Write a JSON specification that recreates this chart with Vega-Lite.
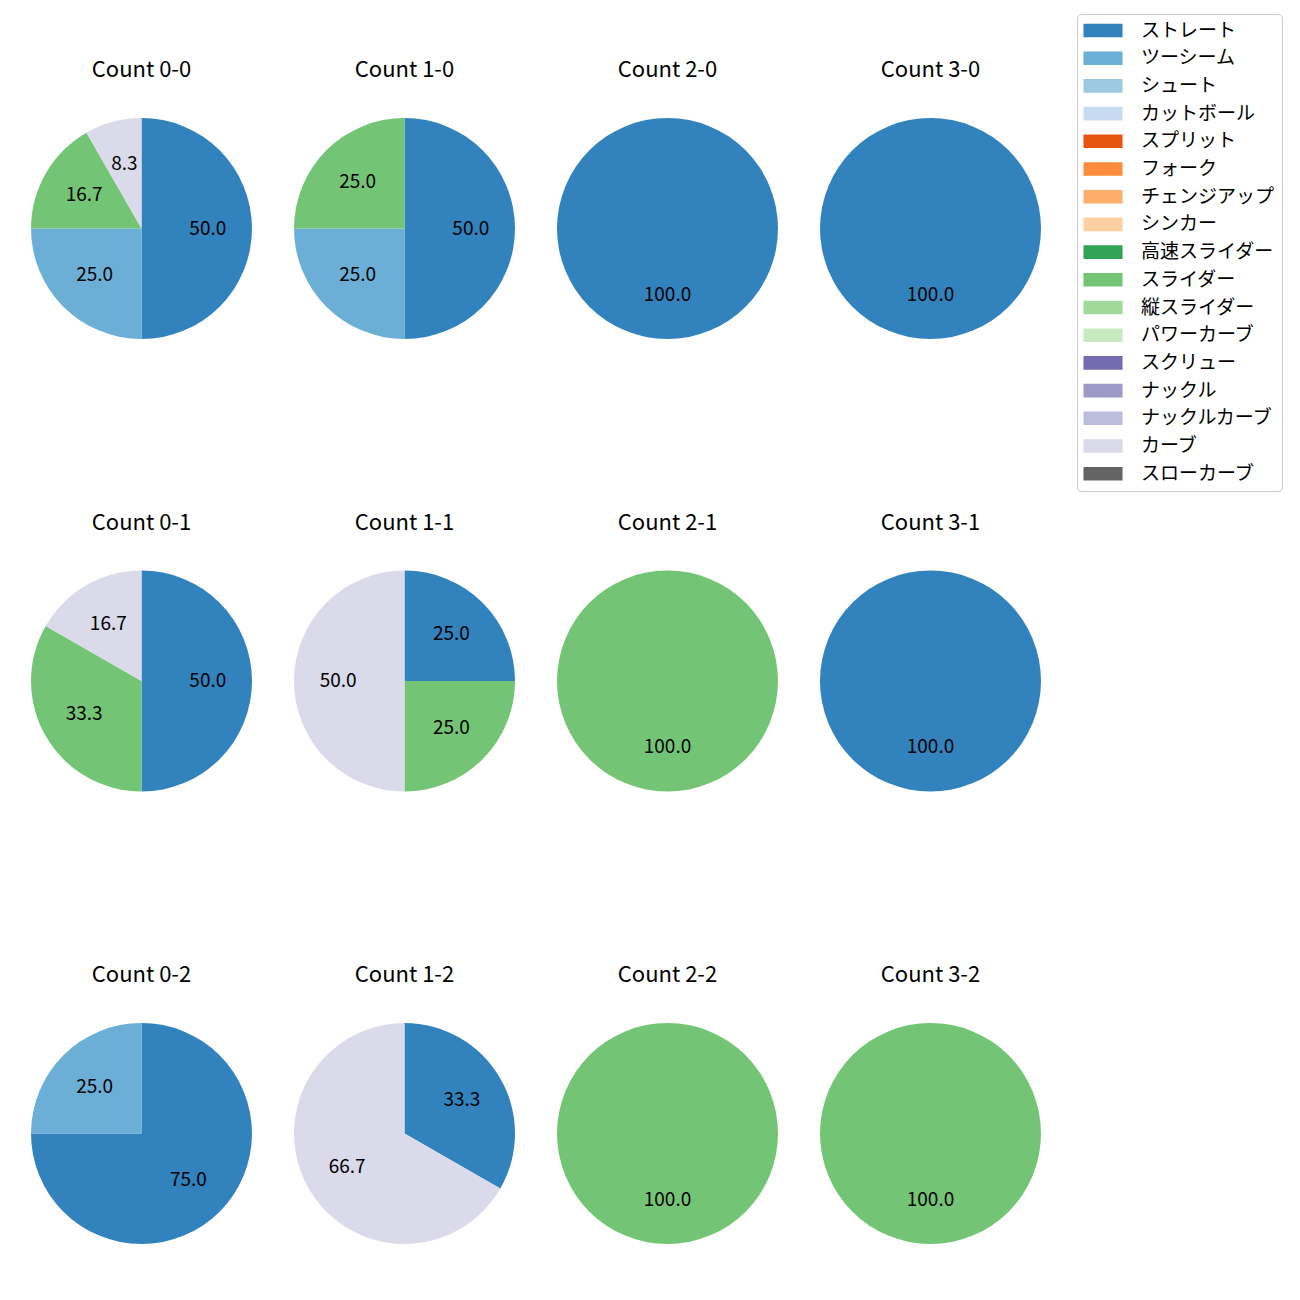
{
  "$schema": "https://vega.github.io/schema/vega-lite/v6.json",
  "padding": {"left": 31, "top": 13, "right": 0, "bottom": 0},
  "data": {
    "values": [
      {"count": "Count 0-0", "pitch": "ストレート", "idx": 0, "pct": 50.0},
      {"count": "Count 0-0", "pitch": "ツーシーム", "idx": 1, "pct": 25.0},
      {"count": "Count 0-0", "pitch": "スライダー", "idx": 9, "pct": 16.7},
      {"count": "Count 0-0", "pitch": "カーブ", "idx": 15, "pct": 8.3},
      {"count": "Count 1-0", "pitch": "ストレート", "idx": 0, "pct": 50.0},
      {"count": "Count 1-0", "pitch": "ツーシーム", "idx": 1, "pct": 25.0},
      {"count": "Count 1-0", "pitch": "スライダー", "idx": 9, "pct": 25.0},
      {"count": "Count 2-0", "pitch": "ストレート", "idx": 0, "pct": 100.0},
      {"count": "Count 3-0", "pitch": "ストレート", "idx": 0, "pct": 100.0},
      {"count": "Count 0-1", "pitch": "ストレート", "idx": 0, "pct": 50.0},
      {"count": "Count 0-1", "pitch": "スライダー", "idx": 9, "pct": 33.3},
      {"count": "Count 0-1", "pitch": "カーブ", "idx": 15, "pct": 16.7},
      {"count": "Count 1-1", "pitch": "ストレート", "idx": 0, "pct": 25.0},
      {"count": "Count 1-1", "pitch": "スライダー", "idx": 9, "pct": 25.0},
      {"count": "Count 1-1", "pitch": "カーブ", "idx": 15, "pct": 50.0},
      {"count": "Count 2-1", "pitch": "スライダー", "idx": 9, "pct": 100.0},
      {"count": "Count 3-1", "pitch": "ストレート", "idx": 0, "pct": 100.0},
      {"count": "Count 0-2", "pitch": "ストレート", "idx": 0, "pct": 75.0},
      {"count": "Count 0-2", "pitch": "ツーシーム", "idx": 1, "pct": 25.0},
      {"count": "Count 1-2", "pitch": "ストレート", "idx": 0, "pct": 33.3},
      {"count": "Count 1-2", "pitch": "カーブ", "idx": 15, "pct": 66.7},
      {"count": "Count 2-2", "pitch": "スライダー", "idx": 9, "pct": 100.0},
      {"count": "Count 3-2", "pitch": "スライダー", "idx": 9, "pct": 100.0}
    ]
  },
  "facet": {
    "field": "count",
    "type": "nominal",
    "sort": ["Count 0-0", "Count 1-0", "Count 2-0", "Count 3-0", "Count 0-1", "Count 1-1", "Count 2-1", "Count 3-1", "Count 0-2", "Count 1-2", "Count 2-2", "Count 3-2"],
    "header": {"title": null, "labelFontSize": 22, "labelFont": "Noto Sans CJK JP", "labelPadding": 26, "labelBaseline": "middle", "labelColor": "black"}
  },
  "columns": 4,
  "spacing": {"column": 42, "row": 172.5},
  "spec": {
    "width": 221,
    "height": 221,
    "layer": [
      {
        "mark": {"type": "arc"},
        "encoding": {
          "theta": {"field": "pct", "type": "quantitative", "stack": true},
          "order": {"field": "idx", "type": "quantitative"},
          "color": {
            "field": "pitch",
            "type": "nominal",
            "scale": {
              "domain": ["ストレート", "ツーシーム", "シュート", "カットボール", "スプリット", "フォーク", "チェンジアップ", "シンカー", "高速スライダー", "スライダー", "縦スライダー", "パワーカーブ", "スクリュー", "ナックル", "ナックルカーブ", "カーブ", "スローカーブ"],
              "range": ["#3182bd", "#6baed6", "#9ecae1", "#c6dbef", "#e6550d", "#fd8d3c", "#fdae6b", "#fdd0a2", "#31a354", "#74c476", "#a1d99b", "#c7e9c0", "#756bb1", "#9e9ac8", "#bcbddc", "#dadaeb", "#636363"]
            },
            "legend": {
              "title": null,
              "orient": "none",
              "legendX": 1046,
              "legendY": -104,
              "labelFont": "Noto Sans CJK JP",
              "labelFontSize": 19,
              "labelColor": "black",
              "labelOffset": 28.5,
              "symbolType": "M-2.79,-0.97H2.79V0.97H-2.79Z",
              "symbolSize": 196,
              "symbolOffset": 9.5,
              "symbolStrokeWidth": 0,
              "symbolOpacity": 1,
              "rowPadding": 7.7,
              "padding": 7,
              "strokeColor": "#cccccc",
              "fillColor": "white",
              "cornerRadius": 4
            }
          }
        }
      },
      {
        "mark": {"type": "text", "radius": 66.3, "fontSize": 19, "font": "Noto Sans CJK JP", "color": "black"},
        "encoding": {
          "theta": {"field": "pct", "type": "quantitative", "stack": true},
          "order": {"field": "idx", "type": "quantitative"},
          "text": {"field": "pct", "type": "quantitative", "format": ".1f"}
        }
      }
    ]
  },
  "config": {"view": {"stroke": null}}
}
